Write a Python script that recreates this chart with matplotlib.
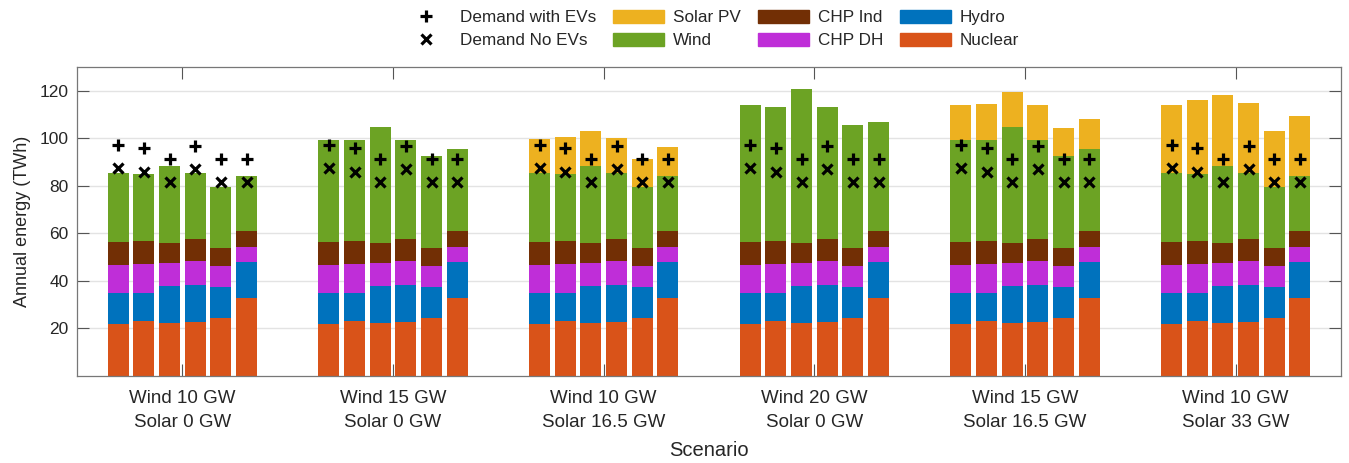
import matplotlib.pyplot as plt
import numpy as np
from matplotlib.patches import Patch
from matplotlib.lines import Line2D

plt.rcParams['font.family'] = ['Liberation Sans', 'DejaVu Sans']
plt.rcParams['text.color'] = '#262626'
plt.rcParams['axes.labelcolor'] = '#262626'
plt.rcParams['xtick.labelcolor'] = '#262626'
plt.rcParams['ytick.labelcolor'] = '#262626'

# scenarios (x axis groups)
scenarios = ['Wind 10 GW\nSolar 0 GW', 'Wind 15 GW\nSolar 0 GW', 'Wind 10 GW\nSolar 16.5 GW',
             'Wind 20 GW\nSolar 0 GW', 'Wind 15 GW\nSolar 16.5 GW', 'Wind 10 GW\nSolar 33 GW']

# six cases per scenario, TWh
nuclear = [21.9, 23.0, 22.2, 22.6, 24.4, 32.8]
hydro   = [13.2, 12.1, 15.8, 15.5, 13.2, 15.2]
chp_dh  = [11.7, 12.1, 9.4, 10.4, 8.7, 6.1]
chp_ind = [9.8, 9.6, 8.7, 9.0, 7.4, 7.0]

wind_10 = [28.7, 28.3, 32.4, 27.8, 25.9, 23.0]
wind_15 = [42.9, 42.5, 48.5, 42.0, 38.9, 34.3]
wind_20 = [57.3, 56.5, 64.6, 55.9, 51.9, 45.8]

solar_0      = [0, 0, 0, 0, 0, 0]
solar_w10_16 = [14.4, 15.4, 14.6, 14.9, 11.7, 12.4]
solar_w15_16 = [14.7, 15.3, 14.9, 14.7, 11.6, 12.6]
solar_w10_33 = [28.9, 30.9, 29.7, 29.6, 23.5, 25.2]

demand_ev   = [97.3, 95.8, 91.5, 96.8, 91.5, 91.5]
demand_noev = [87.5, 86.0, 81.5, 87.0, 81.6, 81.6]

wind_scen  = [wind_10, wind_15, wind_10, wind_20, wind_15, wind_10]
solar_scen = [solar_0, solar_0, solar_w10_16, solar_0, solar_w15_16, solar_w10_33]

colors = {'Nuclear': '#D95319', 'Hydro': '#0072BD', 'CHP DH': '#BF2ED8',
          'CHP Ind': '#722F05', 'Wind': '#6CA324', 'Solar PV': '#EDB120'}

fig = plt.figure(figsize=(13.49, 4.63), dpi=100)
ax = fig.add_axes([0.0571, 0.188, 0.937, 0.667])

nb = 6
pitch = 0.1218
width = 0.0995
offs = (np.arange(nb) - (nb - 1) / 2) * pitch

for g in range(len(scenarios)):
    x = g + offs
    layers = [('Nuclear', nuclear), ('Hydro', hydro), ('CHP DH', chp_dh),
              ('CHP Ind', chp_ind), ('Wind', wind_scen[g]), ('Solar PV', solar_scen[g])]
    bottom = np.zeros(nb)
    for name, vals in layers:
        vals = np.array(vals, dtype=float)
        ax.bar(x, vals, width, bottom=bottom, color=colors[name], linewidth=0, zorder=2)
        bottom += vals
    ax.plot(x, demand_ev, linestyle='none', marker='+', color='k', ms=9, mew=2.3, zorder=3)
    ax.plot(x, demand_noev, linestyle='none', marker='x', color='k', ms=7, mew=2.3, zorder=3)

ax.set_xlim(-0.5, 5.5)
ax.set_ylim(0, 130)
ax.set_yticks([20, 40, 60, 80, 100, 120])
ax.set_xticks(range(len(scenarios)))
ax.set_xticklabels(scenarios, linespacing=1.55)
ax.tick_params(axis='both', direction='in', length=8.5, width=0.8, color='#555555',
               top=True, right=True)
ax.tick_params(axis='y', labelsize=12.5, pad=6)
ax.tick_params(axis='x', labelsize=13.5, pad=10)
ax.yaxis.grid(True, color='#e3e3e3', linewidth=1, zorder=0)
ax.set_axisbelow(True)
for s in ax.spines.values():
    s.set_color('#777777')
    s.set_linewidth(0.9)
ax.set_ylabel('Annual energy (TWh)', fontsize=13, labelpad=6)
ax.set_xlabel('Scenario', fontsize=14.5, labelpad=7)

handles = [Line2D([], [], linestyle='none', marker='+', color='k', ms=9, mew=2.3),
           Line2D([], [], linestyle='none', marker='x', color='k', ms=7, mew=2.3),
           Patch(color=colors['Solar PV']), Patch(color=colors['Wind']),
           Patch(color=colors['CHP Ind']), Patch(color=colors['CHP DH']),
           Patch(color=colors['Hydro']), Patch(color=colors['Nuclear'])]
labels = ['Demand with EVs', 'Demand No EVs', 'Solar PV', 'Wind',
          'CHP Ind', 'CHP DH', 'Hydro', 'Nuclear']
fig.legend(handles, labels, loc='center', bbox_to_anchor=(0.526, 0.937), ncol=4,
           frameon=False, fontsize=12.3, handlelength=3.0, handleheight=0.8,
           labelspacing=0.45, columnspacing=1.0, handletextpad=0.5)

fig.savefig('out.png', dpi=100)
